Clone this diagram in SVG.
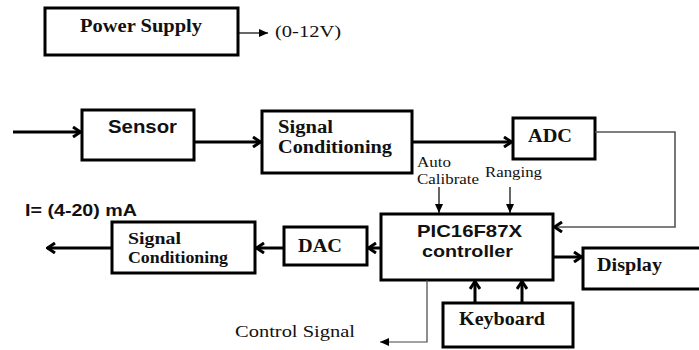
<svg xmlns="http://www.w3.org/2000/svg" width="699" height="350" viewBox="0 0 699 350">
  <style>
    .box { fill: #ffffff; stroke: #000000; stroke-width: 3; }
    .serifB { font-family: "Liberation Serif", "Times New Roman", serif; font-weight: bold; fill: #111111; }
    .serif { font-family: "Liberation Serif", "Times New Roman", serif; fill: #111111; }
    .sansB { font-family: "Liberation Sans", Arial, sans-serif; font-weight: bold; fill: #111111; }
    .thick { fill: none; stroke: #000000; stroke-width: 3; marker-end: url(#open); }
    .thin { fill: none; stroke: #000000; stroke-width: 1.2; marker-end: url(#solid); }
    .feedback { fill: none; stroke: #555555; stroke-width: 1.6; marker-end: url(#open); }
  </style>
  <defs>
    <marker id="open" markerUnits="userSpaceOnUse" viewBox="0 0 10 12" markerWidth="10" markerHeight="12" refX="9" refY="6" orient="auto">
      <path d="M1,1 L8.5,6 L1,11" fill="none" stroke="#000000" stroke-width="3"/>
    </marker>
    <marker id="solid" markerUnits="userSpaceOnUse" viewBox="0 0 9 8" markerWidth="9" markerHeight="8" refX="9" refY="4" orient="auto">
      <path d="M0,0 L9,4 L0,8 z" fill="#000000"/>
    </marker>
  </defs>

  <!-- blocks -->
  <g id="power-supply">
    <rect class="box" x="45" y="8" width="193" height="47"/>
    <text class="serifB" x="80" y="32" font-size="18" textLength="122" lengthAdjust="spacingAndGlyphs">Power Supply</text>
  </g>
  <g id="sensor">
    <rect class="box" x="82" y="110" width="112" height="50"/>
    <text class="sansB" x="108" y="133" font-size="17.5" textLength="69" lengthAdjust="spacingAndGlyphs">Sensor</text>
  </g>
  <g id="signal-conditioning-in">
    <rect class="box" x="262" y="111" width="150" height="62"/>
    <text class="serifB" x="278" y="133" font-size="18" textLength="55" lengthAdjust="spacingAndGlyphs">Signal</text>
    <text class="serifB" x="278" y="153" font-size="18" textLength="114" lengthAdjust="spacingAndGlyphs">Conditioning</text>
  </g>
  <g id="adc">
    <rect class="box" x="513" y="118" width="82" height="41"/>
    <text class="serifB" x="528" y="142" font-size="18" textLength="44" lengthAdjust="spacingAndGlyphs">ADC</text>
  </g>
  <g id="controller">
    <rect class="box" x="381" y="214" width="172" height="66"/>
    <text class="sansB" x="417" y="237" font-size="17" textLength="105" lengthAdjust="spacingAndGlyphs">PIC16F87X</text>
    <text class="sansB" x="422" y="257" font-size="17" textLength="91" lengthAdjust="spacingAndGlyphs">controller</text>
  </g>
  <g id="display">
    <rect class="box" x="583" y="248" width="120" height="41"/>
    <text class="serifB" x="597" y="271" font-size="18" textLength="65" lengthAdjust="spacingAndGlyphs">Display</text>
  </g>
  <g id="keyboard">
    <rect class="box" x="443" y="303" width="130" height="44"/>
    <text class="serifB" x="459" y="325" font-size="18" textLength="86" lengthAdjust="spacingAndGlyphs">Keyboard</text>
  </g>
  <g id="dac">
    <rect class="box" x="284" y="227" width="83" height="38"/>
    <text class="serifB" x="298" y="252" font-size="18" textLength="44" lengthAdjust="spacingAndGlyphs">DAC</text>
  </g>
  <g id="signal-conditioning-out">
    <rect class="box" x="112" y="222" width="143" height="51"/>
    <text class="serifB" x="128" y="244" font-size="16.5" textLength="53" lengthAdjust="spacingAndGlyphs">Signal</text>
    <text class="serifB" x="128" y="263" font-size="16.5" textLength="100" lengthAdjust="spacingAndGlyphs">Conditioning</text>
  </g>

  <!-- free labels -->
  <g id="labels">
    <text class="serif" x="275" y="37" font-size="17" textLength="66" lengthAdjust="spacingAndGlyphs">(0-12V)</text>
    <text class="serif" x="417" y="167" font-size="15" textLength="34" lengthAdjust="spacingAndGlyphs">Auto</text>
    <text class="serif" x="417" y="184" font-size="15" textLength="62" lengthAdjust="spacingAndGlyphs">Calibrate</text>
    <text class="serif" x="485" y="177" font-size="15" textLength="57" lengthAdjust="spacingAndGlyphs">Ranging</text>
    <text class="sansB" x="25" y="216" font-size="16.5" textLength="112" lengthAdjust="spacingAndGlyphs">I= (4-20) mA</text>
    <text class="serif" x="235" y="337" font-size="16" textLength="120" lengthAdjust="spacingAndGlyphs">Control Signal</text>
  </g>

  <!-- connectors -->
  <g id="connectors">
    <path class="thin" d="M238,33 H268"/>
    <path class="thick" d="M13,132 H81"/>
    <path class="thick" d="M194,142 H261"/>
    <path class="thick" d="M412,142 H512"/>
    <path class="feedback" d="M595,132 H675 V227 H554"/>
    <path class="thin" d="M439,187 V213"/>
    <path class="thin" d="M510,187 V213"/>
    <path class="thick" d="M553,257 H582"/>
    <path class="thick" d="M381,248 H368"/>
    <path class="thick" d="M284,248 H256"/>
    <path class="thick" d="M112,248 H47"/>
    <path class="thick" d="M475,303 V281"/>
    <path class="thick" d="M522,303 V281"/>
    <path class="thin" style="stroke:#444444" d="M427,280 V342 H380"/>
  </g>
</svg>
